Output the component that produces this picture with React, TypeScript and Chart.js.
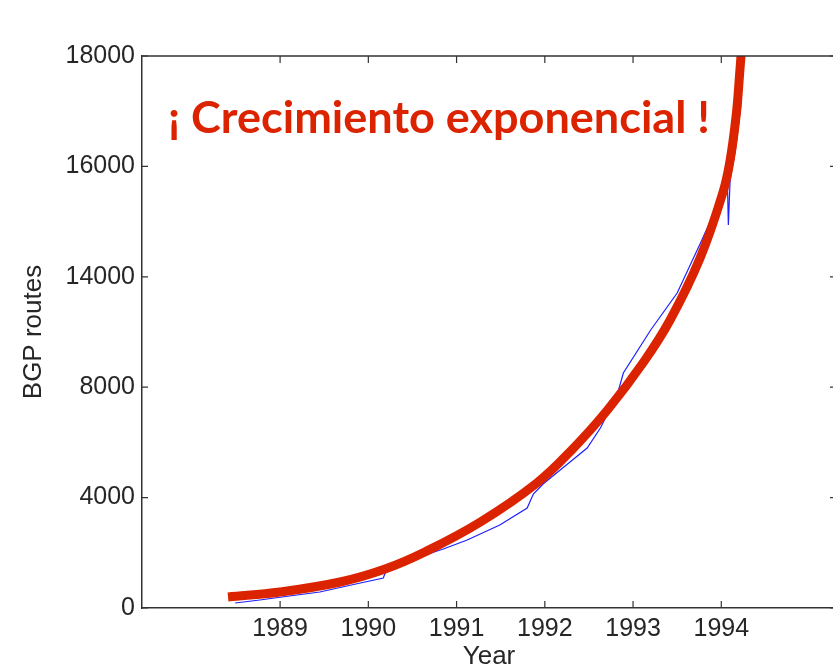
import React, { useEffect, useRef } from "react";
import { Chart, registerables } from "chart.js";

Chart.register(...registerables);

// Axis ticks
const xTickYears = [1989, 1990, 1991, 1992, 1993, 1994];
const yTickValues = [0, 3600, 7200, 10800, 14400, 18000];
const yTickLabels = ["0", "4000", "8000", "14000", "16000", "18000"];

// Measured BGP route table size (blue thin line)
const bgpYears = [
  1988.49, 1988.77, 1989.02, 1989.45, 1989.91, 1990.17, 1990.19, 1990.47,
  1990.85, 1991.12, 1991.49, 1991.8, 1991.87, 1991.98, 1992.23, 1992.48,
  1992.63, 1992.82, 1992.89, 1993.2, 1993.5, 1993.78, 1994.07, 1994.08,
  1994.1, 1994.16, 1994.22, 1994.25, 1994.27,
];
const bgpRoutes = [
  163, 261, 359, 522, 815, 978, 1141, 1565,
  1924, 2217, 2707, 3261, 3718, 4044, 4631, 5218,
  5870, 6946, 7663, 9066, 10272, 12000, 13859, 12490,
  13957, 14935, 16338, 18033, 18849,
];

// Exponential trend (thick red line)
const fitYears = [
  1988.41, 1989.0, 1989.68, 1990.19, 1990.64, 1991.27, 1991.91, 1992.32,
  1992.71, 1993.12, 1993.42, 1993.76, 1994.02, 1994.1, 1994.17, 1994.21,
  1994.25,
];
const fitRoutes = [
  359, 522, 848, 1272, 1826, 2804, 4076, 5200,
  6457, 8022, 9391, 11413, 13566, 14600, 16100, 17500,
  19011,
];

const annotationText = "¡ Crecimiento exponencial !";

const AXIS_FONT = "'Liberation Sans', Arial, sans-serif";
const TEXT_COLOR = "#262626";
const FRAME_COLOR = "#333333";

const framePlugin = {
  id: "frame",
  afterDraw(chart: any) {
    const { ctx, chartArea } = chart;
    const { left, right, top, bottom } = chartArea;
    const xs = chart.scales.x;
    const ys = chart.scales.y;
    ctx.save();
    ctx.strokeStyle = FRAME_COLOR;
    ctx.lineWidth = 1.5;
    ctx.beginPath();
    ctx.moveTo(left, top);
    ctx.lineTo(right, top);
    ctx.lineTo(right, bottom);
    ctx.stroke();
    ctx.lineWidth = 1.2;
    ctx.beginPath();
    xTickYears.forEach((v) => {
      const px = xs.getPixelForValue(v);
      ctx.moveTo(px, bottom);
      ctx.lineTo(px, bottom - 7);
      ctx.moveTo(px, top);
      ctx.lineTo(px, top + 7);
    });
    yTickValues.forEach((v) => {
      const py = ys.getPixelForValue(v);
      ctx.moveTo(left, py);
      ctx.lineTo(left + 6, py);
      ctx.moveTo(right, py);
      ctx.lineTo(right - 6, py);
    });
    ctx.stroke();
    ctx.restore();
  },
};

const annotationPlugin = {
  id: "annotationText",
  afterDatasetsDraw(chart: any) {
    const { ctx, chartArea } = chart;
    ctx.save();
    ctx.font = "bold 44px Lato, 'DejaVu Sans', sans-serif";
    ctx.fillStyle = "#dc2300";
    ctx.textBaseline = "alphabetic";
    ctx.textAlign = "left";
    const w = ctx.measureText(annotationText).width;
    const sx = 542 / w;
    ctx.translate(chartArea.left + 26, chartArea.top + 77);
    ctx.scale(sx, 1);
    ctx.fillText(annotationText, 0, 0);
    ctx.restore();
  },
};

export default function App() {
  const canvasRef = useRef<HTMLCanvasElement | null>(null);

  useEffect(() => {
    if (!canvasRef.current) return;
    const chart = new Chart(canvasRef.current, {
      type: "line",
      data: {
        datasets: [
          {
            label: "Exponencial",
            data: fitYears.map((x, i) => ({ x, y: fitRoutes[i] })),
            borderColor: "#dc2300",
            backgroundColor: "#dc2300",
            borderWidth: 9,
            borderCapStyle: "butt",
            pointRadius: 0,
            tension: 0.4,
            fill: false,
            order: 0,
            clip: 0,
          },
          {
            label: "BGP routes",
            data: bgpYears.map((x, i) => ({ x, y: bgpRoutes[i] })),
            borderColor: "#1f1fff",
            backgroundColor: "#1f1fff",
            borderWidth: 1.2,
            pointRadius: 0,
            tension: 0,
            fill: false,
            order: 1,
            clip: 0,
          },
        ],
      },
      options: {
        responsive: false,
        animation: false,
        devicePixelRatio: 1,
        layout: { padding: { top: 56, right: 14, left: 0, bottom: 0 } },
        plugins: {
          legend: { display: false },
          tooltip: { enabled: false },
        },
        scales: {
          x: {
            type: "linear",
            min: 1987.435,
            max: 1995.3,
            afterBuildTicks: (s: any) => {
              s.ticks = xTickYears.map((v) => ({ value: v }));
            },
            afterFit: (s: any) => {
              s.height = 62;
            },
            ticks: {
              autoSkip: false,
              maxRotation: 0,
              padding: 6,
              color: TEXT_COLOR,
              font: { family: AXIS_FONT, size: 25 },
              callback: (v: any) => String(v),
            },
            grid: { display: false, drawTicks: false },
            border: { display: true, color: FRAME_COLOR, width: 1.5 },
            title: {
              display: true,
              text: "Year",
              color: TEXT_COLOR,
              font: { family: AXIS_FONT, size: 26, lineHeight: 1 },
              padding: { top: 0, bottom: 0 },
            },
          },
          y: {
            type: "linear",
            min: 0,
            max: 18000,
            afterBuildTicks: (s: any) => {
              s.ticks = yTickValues.map((v) => ({ value: v }));
            },
            afterFit: (s: any) => {
              s.width = 142;
            },
            ticks: {
              autoSkip: false,
              padding: 7,
              color: TEXT_COLOR,
              font: { family: AXIS_FONT, size: 25 },
              callback: (v: any) => {
                const i = yTickValues.indexOf(Number(v));
                return i >= 0 ? yTickLabels[i] : "";
              },
            },
            grid: { display: false, drawTicks: false },
            border: { display: true, color: FRAME_COLOR, width: 1.5 },
            title: {
              display: true,
              text: "BGP routes",
              color: TEXT_COLOR,
              font: { family: AXIS_FONT, size: 26, lineHeight: 1 },
              padding: { top: 21, bottom: 0 },
            },
          },
        },
      },
      plugins: [framePlugin, annotationPlugin],
    } as any);
    return () => chart.destroy();
  }, []);

  return (
    <div
      style={{
        position: "fixed",
        left: 0,
        top: 0,
        width: 833,
        height: 670,
        overflow: "hidden",
        background: "#ffffff",
      }}
    >
      <canvas
        ref={canvasRef}
        width={850}
        height={670}
        style={{ display: "block", width: 850, height: 670 }}
      />
    </div>
  );
}
